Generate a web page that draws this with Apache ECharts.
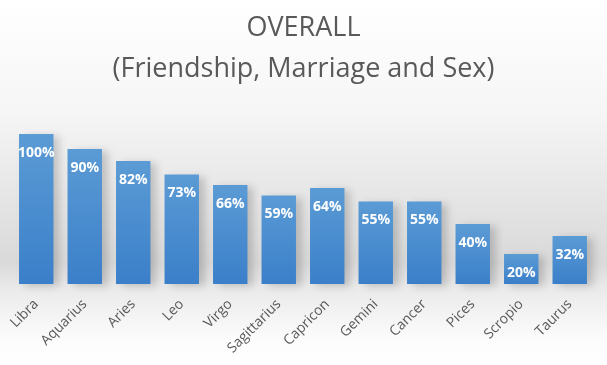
<!DOCTYPE html>
<html><head><meta charset="utf-8">
<script src="https://cdn.jsdelivr.net/npm/echarts@6/dist/echarts.min.js"></script>
<style>html,body{margin:0;padding:0;}#c{width:607px;height:365px;}</style>
</head><body><div id="c"></div>
<script>
const titleLines = ['OVERALL', '(Friendship, Marriage and Sex)'];
const categories = ['Libra','Aquarius','Aries','Leo','Virgo','Sagittarius','Capricon','Gemini','Cancer','Pices','Scropio','Taurus'];
const values = [100, 90, 82, 73, 66, 59, 64, 55, 55, 40, 20, 32];

const chart = echarts.init(document.getElementById('c'), null, {renderer: 'canvas'});
chart.setOption({
  animation: false,
  backgroundColor: new echarts.graphic.LinearGradient(0, 0, 0, 1, [
    {offset: 0, color: '#ffffff'},
    {offset: 0.3, color: '#f6f6f6'},
    {offset: 0.72, color: '#d9d9d9'},
    {offset: 0.79, color: '#eaeaea'},
    {offset: 0.93, color: '#fcfcfc'},
    {offset: 1, color: '#ffffff'}
  ]),
  title: {
    text: titleLines.join('\n'),
    left: 'center',
    top: 3,
    textStyle: {
      fontFamily: 'Open Sans',
      fontSize: 27,
      fontWeight: 'normal',
      color: '#595959',
      lineHeight: 41
    }
  },
  grid: {left: 12, right: 13, top: 134, bottom: 81, containLabel: false},
  xAxis: {
    type: 'category',
    data: categories,
    axisLine: {show: false},
    axisTick: {show: false},
    axisLabel: {
      rotate: 45,
      margin: 18,
      fontFamily: 'Open Sans',
      fontSize: 14,
      color: '#595959'
    }
  },
  yAxis: {
    type: 'value',
    min: 0, max: 100,
    show: false,
    splitLine: {show: false}
  },
  series: [{
    type: 'bar',
    data: values,
    barCategoryGap: '29%',
    itemStyle: {
      color: new echarts.graphic.LinearGradient(0, 0, 0, 1, [
        {offset: 0, color: '#5b9bd5'},
        {offset: 1, color: '#3a7fc9'}
      ]),
      shadowColor: 'rgba(0,0,0,0.18)',
      shadowBlur: 8,
      shadowOffsetX: 6,
      shadowOffsetY: 2
    },
    label: {
      show: true,
      position: 'insideTop',
      distance: 12,
      formatter: '{c}%',
      fontFamily: 'Open Sans',
      fontWeight: 'bold',
      fontSize: 14,
      color: '#ffffff'
    }
  }]
});
</script></body></html>
